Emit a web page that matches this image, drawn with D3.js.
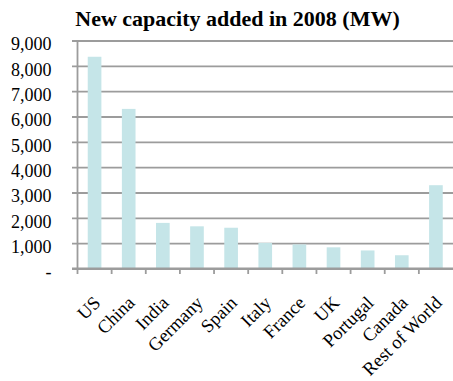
<!DOCTYPE html>
<html>
<head>
<meta charset="utf-8">
<script src="https://cdn.jsdelivr.net/npm/d3@7"></script>
<style>
  html, body { margin: 0; padding: 0; background: #fff; }
  svg { display: block; }
</style>
</head>
<body>
<svg id="chart" width="453" height="381"></svg>
<script>
// Wind power capacity installed during 2008, by country (MW)
const countries = ["US", "China", "India", "Germany", "Spain", "Italy", "France", "UK", "Portugal", "Canada", "Rest of World"];
const capacityMW = [8358, 6300, 1800, 1665, 1609, 1010, 950, 836, 712, 523, 3288];
const yTicks = [0, 1000, 2000, 3000, 4000, 5000, 6000, 7000, 8000, 9000];
const titleText = "New capacity added in 2008 (MW)";

const FONT = "Liberation Serif";
const svg = d3.select("#chart");
const margin = { left: 77.5, right: 453, top: 40.5, bottom: 268.5 };
const gridColor = "#9c9c9c";

const x = d3.scaleBand()
  .domain(countries)
  .range([margin.left, margin.right])
  .paddingInner(0.6)
  .paddingOuter(0.3);

const y = d3.scaleLinear()
  .domain([0, 9000])
  .range([margin.bottom, margin.top]);

// Horizontal gridlines with left ticks
const yAxis = d3.axisLeft(y)
  .tickValues(yTicks)
  .tickSizeInner(-(margin.right - margin.left))
  .tickSizeOuter(0)
  .tickFormat(d => d === 0 ? "-" : d3.format(",")(d));

const gy = svg.append("g")
  .attr("transform", `translate(${margin.left},0)`)
  .call(yAxis)
  .attr("font-family", FONT)
  .attr("font-size", 18);
gy.select(".domain").remove();
gy.selectAll(".tick line")
  .attr("x1", -5.5)
  .attr("stroke", gridColor)
  .attr("stroke-width", 1.8);
gy.selectAll(".tick text")
  .attr("x", -26)
  .attr("dy", "0.52em")
  .attr("fill", "#000");

// Bars
svg.append("g")
  .selectAll("rect")
  .data(countries)
  .join("rect")
  .attr("x", d => x(d))
  .attr("width", x.bandwidth())
  .attr("y", (d, i) => y(capacityMW[i]))
  .attr("height", (d, i) => y(0) - y(capacityMW[i]))
  .attr("fill", "#c5e5e8");

// Left axis line
svg.append("line")
  .attr("x1", margin.left).attr("x2", margin.left)
  .attr("y1", margin.top).attr("y2", margin.bottom)
  .attr("stroke", gridColor)
  .attr("stroke-width", 1.8);

// Bottom axis line and category ticks at band boundaries
svg.append("line")
  .attr("x1", margin.left - 5.5).attr("x2", margin.right)
  .attr("y1", y(0)).attr("y2", y(0))
  .attr("stroke", gridColor)
  .attr("stroke-width", 1.8);

const step = x.step();
const bounds = d3.range(countries.length).map(i => margin.left + i * step);
svg.append("g")
  .selectAll("line")
  .data(bounds)
  .join("line")
  .attr("x1", d => d).attr("x2", d => d)
  .attr("y1", y(0)).attr("y2", y(0) + 5.5)
  .attr("stroke", gridColor)
  .attr("stroke-width", 1.8);

// Rotated category labels
svg.append("g")
  .attr("font-family", FONT)
  .attr("font-size", 18.5)
  .selectAll("text")
  .data(countries)
  .join("text")
  .attr("text-anchor", "end")
  .attr("transform", d => `translate(${x(d) + x.bandwidth() / 2 + 7},304) rotate(-45)`)
  .text(d => d);

// Title
svg.append("text")
  .attr("x", 237.5)
  .attr("y", 26)
  .attr("text-anchor", "middle")
  .attr("font-family", FONT)
  .attr("font-size", 22)
  .attr("font-weight", "bold")
  .text(titleText);
</script>
</body>
</html>
